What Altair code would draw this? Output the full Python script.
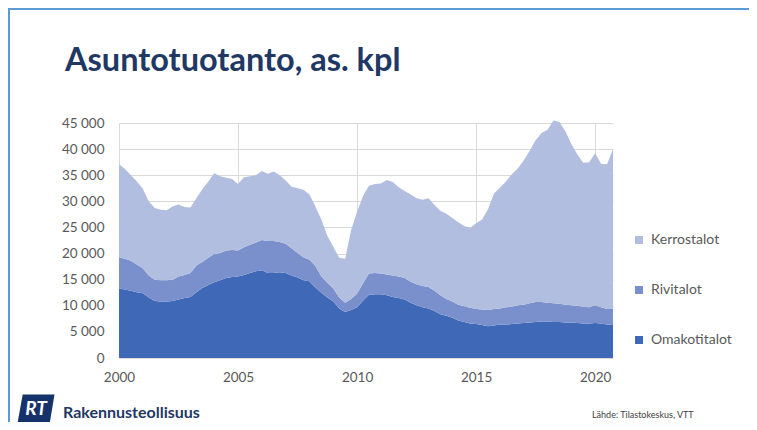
import altair as alt
import pandas as pd

# Quarterly data (rolling), 2000Q1 .. 2020Q4
start_year = 2000
omakotitalot = [13300, 13100, 12900, 12600, 12400, 11600, 10900, 10800, 10800, 10900,
                11200, 11500, 11700, 12600, 13400, 14000, 14500, 14900, 15300, 15500,
                15600, 15900, 16300, 16600, 16800, 16300, 16300, 16400, 16300, 15800,
                15400, 14900, 14700, 13500, 12500, 11600, 10800, 9500, 8800, 9200,
                9700, 11000, 12100, 12200, 12200, 12000, 11700, 11500, 11200, 10600,
                10100, 9700, 9500, 9000, 8400, 8100, 7700, 7200, 6900, 6600,
                6500, 6300, 6100, 6200, 6400, 6400, 6500, 6600, 6700, 6800,
                6900, 7000, 7000, 6900, 6900, 6800, 6800, 6700, 6600, 6600,
                6700, 6600, 6400, 6300]
rivitalot = [6000, 5900, 5700, 5300, 4800, 4200, 4100, 4100, 4100, 4100,
             4400, 4400, 4600, 5100, 5000, 5200, 5400, 5200, 5300, 5200,
             5000, 5300, 5400, 5500, 5800, 6100, 6100, 5800, 5600, 5200,
             4700, 4400, 4100, 4100, 3100, 2800, 2500, 2100, 1800, 2100,
             2600, 3300, 4100, 4100, 4000, 4000, 4100, 4100, 4100, 4000,
             4000, 4100, 4100, 3900, 3600, 3200, 3100, 3000, 3000, 3000,
             2900, 3000, 3100, 3200, 3100, 3300, 3300, 3500, 3500, 3700,
             3800, 3700, 3600, 3600, 3500, 3400, 3300, 3300, 3200, 3100,
             3400, 3100, 3000, 3100]
kerrostalot = [17800, 17200, 16400, 15900, 15200, 14200, 13700, 13500, 13400, 14000,
               13800, 13000, 12500, 12900, 13900, 14600, 15500, 14700, 13900, 13600,
               12700, 13400, 13100, 12900, 13200, 12900, 13300, 12800, 12100, 11800,
               12400, 12900, 12500, 11400, 10900, 9000, 8000, 7600, 8400, 13200,
               15700, 16700, 16800, 17000, 17200, 18100, 17900, 17100, 16700, 16700,
               16500, 16500, 17000, 16400, 16200, 16300, 16000, 15800, 15400, 15300,
               16400, 17200, 19300, 22100, 23100, 24100, 25400, 26200, 27600, 29200,
               31000, 32400, 33100, 35000, 34800, 33200, 30900, 29000, 27600, 27800,
               29100, 27500, 27700, 30600]

series_names = ["Omakotitalot", "Rivitalot", "Kerrostalot"]
series_colors = ["#3F69B7", "#7990CC", "#B2BEDF"]
x_ticks = [2000, 2005, 2010, 2015, 2020]
y_ticks = [0, 5000, 10000, 15000, 20000, 25000, 30000, 35000, 40000, 45000]

rows = []
for order, (name, vals) in enumerate(zip(series_names, [omakotitalot, rivitalot, kerrostalot])):
    for i, v in enumerate(vals):
        rows.append({"t": start_year + i / 4, "value": v, "series": name, "ord": order})
df = pd.DataFrame(rows)

W, H = 494, 235
FONT = "Lato"

areas = alt.Chart(df).mark_area(interpolate="linear").encode(
    x=alt.X("t:Q", scale=alt.Scale(domain=[2000, 2020.75], nice=False, zero=False),
            axis=alt.Axis(values=x_ticks, format="d", title=None, grid=True, ticks=False,
                          domain=False, labelPadding=12, labelFontSize=13.5,
                          labelColor="#595959", labelFont=FONT, gridColor="#D9D9D9",
                          labelFlush=False)),
    y=alt.Y("value:Q", stack="zero", scale=alt.Scale(domain=[0, 45000], nice=False),
            axis=alt.Axis(values=y_ticks, title=None, ticks=False, domain=False,
                          labelPadding=15, labelFontSize=13.5, labelColor="#595959",
                          labelFont=FONT, gridColor="#D9D9D9",
                          labelExpr="replace(format(datum.value, ','), ',', ' ')")),
    color=alt.Color("series:N",
                    scale=alt.Scale(domain=series_names[::-1], range=series_colors[::-1]),
                    legend=alt.Legend(title=None, orient="none", legendX=513, legendY=110,
                                      symbolType="square", symbolSize=64, symbolStrokeWidth=0,
                                      labelFontSize=14, labelColor="#595959", labelFont=FONT,
                                      labelOffset=5, rowPadding=36, padding=0)),
    order=alt.Order("ord:Q", sort="ascending"),
)

one = pd.DataFrame({"a": [0]})

frame_top = alt.Chart(one).mark_rule(color="#5B9BD5", strokeWidth=2).encode(
    x=alt.value(-111), x2=alt.value(W + 136), y=alt.value(-114))
frame_left = alt.Chart(one).mark_rule(color="#5B9BD5", strokeWidth=2).encode(
    x=alt.value(-110), y=alt.value(-115), y2=alt.value(H + 64))

title = alt.Chart(one).mark_text(align="left", baseline="alphabetic", font=FONT,
                                 fontWeight="bold", fontSize=32.5, color="#1F3864").encode(
    x=alt.value(-54), y=alt.value(-52), text=alt.value("Asuntotuotanto, as. kpl"))

logo_box = alt.Chart(one).mark_point(
    shape="M -0.72 -0.78 L 1 -0.78 L 0.74 0.78 L -1 0.78 Z",
    filled=True, size=1369, color="#15326B", opacity=1).encode(
    x=alt.value(-83), y=alt.value(286))
logo_rt = alt.Chart(one).mark_text(align="center", baseline="middle", font=FONT,
                                   fontWeight="bold", fontStyle="italic", fontSize=19,
                                   color="white").encode(
    x=alt.value(-83), y=alt.value(286), text=alt.value("RT"))
logo_name = alt.Chart(one).mark_text(align="left", baseline="middle", font=FONT,
                                     fontWeight="bold", fontSize=16, color="#1F3864").encode(
    x=alt.value(-56), y=alt.value(290), text=alt.value("Rakennusteollisuus"))
source = alt.Chart(one).mark_text(align="left", baseline="middle", font=FONT,
                                  fontSize=9, color="#404040").encode(
    x=alt.value(473), y=alt.value(292), text=alt.value("Lähde: Tilastokeskus, VTT"))

chart = alt.layer(areas, frame_top, frame_left, title, logo_box, logo_rt, logo_name, source).properties(
    width=W, height=H,
    padding={"left": 111, "top": 115, "right": 136, "bottom": 64},
    autosize=alt.AutoSizeParams(type="none"),
    background="white",
).configure_view(stroke=None)

chart.save("out.html", embed_options={"renderer": "svg", "actions": False})
